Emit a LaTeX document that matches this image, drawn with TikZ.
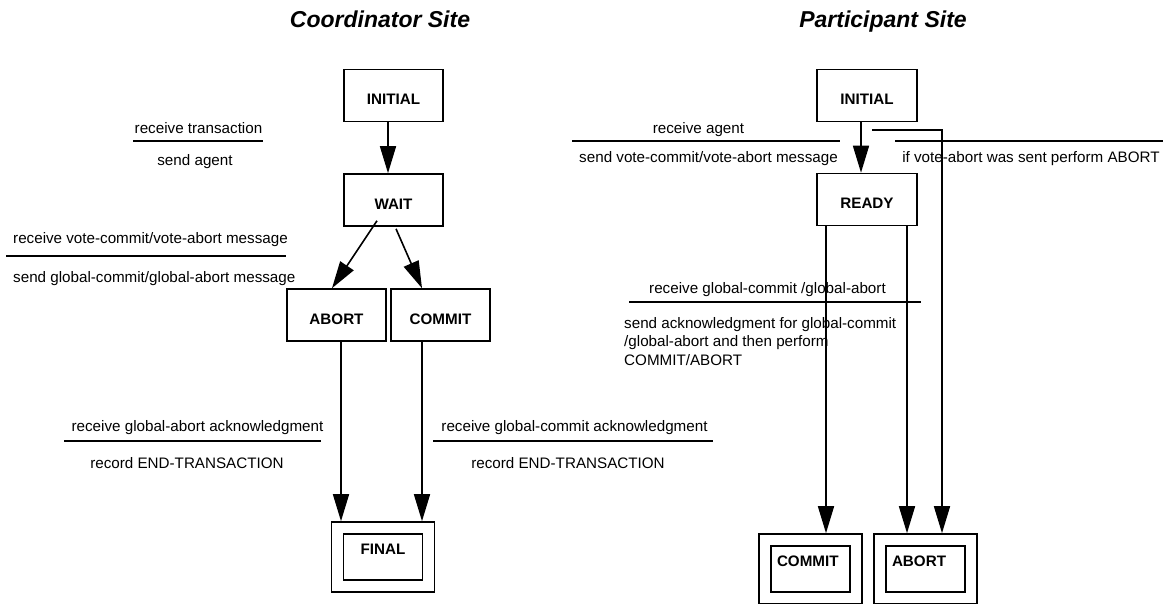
\documentclass[tikz,border=0pt]{standalone}
\usepackage{fontspec}
\setmainfont{Liberation Sans}
\usetikzlibrary{arrows.meta}

\begin{document}
\begin{tikzpicture}[x=1pt,y=-1pt]
        \tikzset{state/.style={draw,line width=1.6pt,minimum width=99.5pt,minimum height=52pt,inner sep=0pt,
                font=\fontsize{15.2}{18}\selectfont\bfseries,text height=18pt,text depth=0pt},
            endstate/.style={draw,line width=1.6pt,double,double distance=10.4pt,outer sep=6.8pt,
                minimum width=91pt,minimum height=58pt,inner xsep=12pt,inner ysep=0pt,text width=67pt,
                font=\fontsize{15.2}{18}\selectfont\bfseries,text height=10pt,text depth=16pt},
            arr/.style={line width=1.6pt,-{Triangle[length=27pt,width=16pt]}},
            sepline/.style={line width=1.4pt},
            txt/.style={inner sep=0pt,font=\fontsize{15.2}{18.5}\selectfont},
            title/.style={inner sep=0pt,font=\fontsize{23}{26}\selectfont\bfseries\itshape}}
        \useasboundingbox (0,0) rectangle (1163,603);

        % coordinator site
        \node[title,anchor=base] (ctitle) at (380,27.5) {Coordinator Site};
        \node[state] (cinit) at (393.5,95.5) {INITIAL};
        \node[state] (cwait) at (393.5,200) {WAIT};
        \node[state] (cabort) at (336.5,315) {ABORT};
        \node[state] (ccommit) at (440.5,315) {COMMIT};
        \node[endstate,align=center] (cfinal) at (383,557) {FINAL};

        \draw[arr] ([xshift=-5.5pt]cinit.south) -- ([xshift=-5.5pt]cwait.north);
        \draw[arr] ([xshift=-16.5pt,yshift=6pt]cwait.south) -- ([xshift=-4.5pt]cabort.north);
        \draw[arr] ([xshift=2.5pt,yshift=-2pt]cwait.south) -- ([xshift=-18.5pt]ccommit.north);
        \draw[arr] ([xshift=4.5pt]cabort.south) -- ([xshift=4.5pt]cabort.south |- cfinal.north);
        \draw[arr] ([xshift=-18.5pt]ccommit.south) -- ([xshift=-18.5pt]ccommit.south |- cfinal.north);

        \coordinate (rtx-l) at (133,141);
        \coordinate (rtx-r) at (263,141);
        \draw[sepline] (rtx-l) -- (rtx-r);
        \node[txt,anchor=base] (rtx) at (198.5,133) {receive transaction};
        \node[txt,anchor=base] (sagent) at (195,165) {send agent};

        \coordinate (rvote-l) at (6,256);
        \coordinate (rvote-r) at (286,256);
        \draw[sepline] (rvote-l) -- (rvote-r);
        \node[txt,anchor=base west] (rvote) at (13,243) {receive vote-commit/vote-abort message};
        \node[txt,anchor=base west] (sglobal) at (13,282) {send global-commit/global-abort message};

        \coordinate (rgaa-l) at (64,441);
        \coordinate (rgaa-r) at (321,441);
        \draw[sepline] (rgaa-l) -- (rgaa-r);
        \node[txt,anchor=base] (rgaa) at (197.5,431) {receive global-abort acknowledgment};
        \node[txt,anchor=base] (rend1) at (187,468) {record END-TRANSACTION};

        \coordinate (rgca-l) at (433,441);
        \coordinate (rgca-r) at (713,441);
        \draw[sepline] (rgca-l) -- (rgca-r);
        \node[txt,anchor=base] (rgca) at (574.5,431) {receive global-commit acknowledgment};
        \node[txt,anchor=base] (rend2) at (568,468) {record END-TRANSACTION};

        % participant site
        \node[title,anchor=base] (ptitle) at (883,27.5) {Participant Site};
        \node[state] (pinit) at (867,95.5) {INITIAL};
        \node[state] (pready) at (867,199.5) {READY};
        \node[endstate,align=left] (pcommit) at (810.5,569) {COMMIT};
        \node[endstate,align=left] (pabort) at (925.5,569) {ABORT};

        \coordinate (votedabort) at (872,130);
        \draw[arr] ([xshift=-6pt]pinit.south) -- ([xshift=-6pt]pready.north);
        \draw[arr] ([xshift=-41pt]pready.south) -- ([xshift=-41pt]pready.south |- pcommit.north);
        \draw[arr] ([xshift=40pt]pready.south) -- ([xshift=40pt]pready.south |- pabort.north);
        \draw[arr] (votedabort) -| ([xshift=16.5pt]pabort.north);

        \coordinate (ragent-l) at (572,141);
        \coordinate (ragent-r) at (840,141);
        \draw[sepline] (ragent-l) -- (ragent-r);
        \node[txt,anchor=base] (ragent) at (698.5,133) {receive agent};
        \node[txt,anchor=base] (svote) at (708.5,162) {send vote-commit/vote-abort message};

        \coordinate (ifabort-l) at (895,141);
        \coordinate (ifabort-r) at (1163,141);
        \draw[sepline] (ifabort-l) -- (ifabort-r);
        \node[txt,anchor=base] (ifabort) at (1031,162) {if vote-abort was sent perform ABORT};

        \coordinate (rglobal-l) at (629,302);
        \coordinate (rglobal-r) at (921,302);
        \draw[sepline] (rglobal-l) -- (rglobal-r);
        \node[txt,anchor=base] (rglobal) at (767.5,293) {receive global-commit /global-abort};
        \node[txt,anchor=north west,align=left] (sack) at (624,317)
            {send acknowledgment for global-commit\\/global-abort and then perform\\COMMIT/ABORT};
\end{tikzpicture}
\end{document}
